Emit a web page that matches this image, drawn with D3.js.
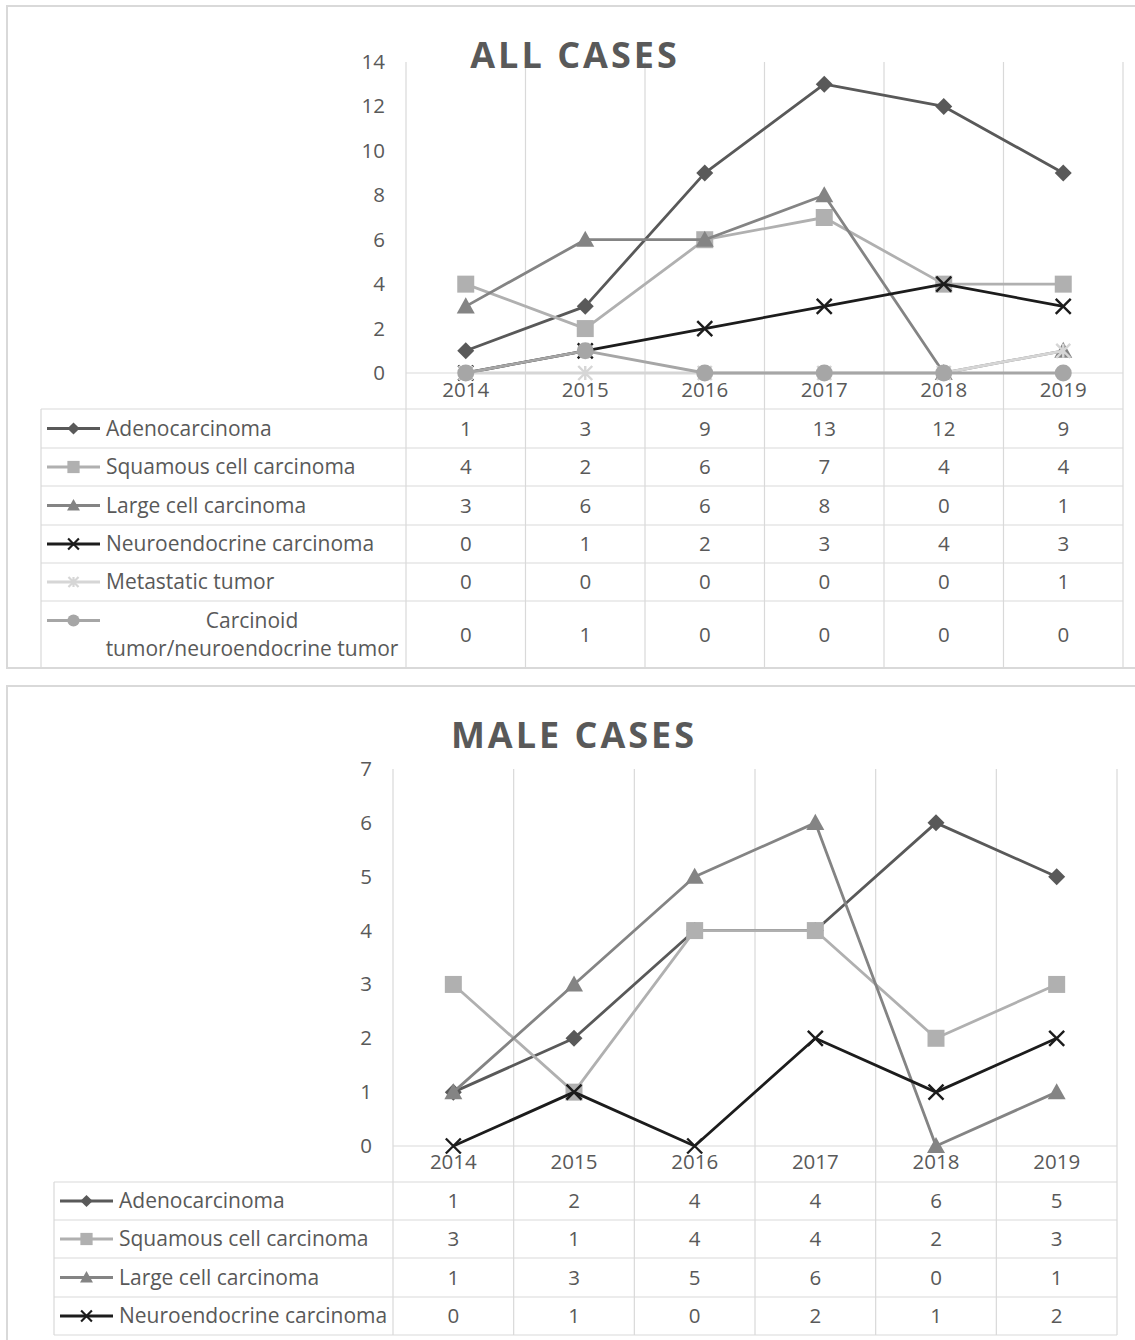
<!DOCTYPE html>
<html><head><meta charset="utf-8">
<script src="https://cdn.jsdelivr.net/npm/d3@7"></script>
<style>
html,body{margin:0;padding:0;background:#fff;}
svg{display:block;font-family:"Open Sans",sans-serif;}
</style></head><body>
<svg id="chart" width="1135" height="1340"></svg>
<script>
// Years shown on the category axis and in the data-table columns
const years = ["2014", "2015", "2016", "2017", "2018", "2019"];

// Histological types (legend / data-table rows)
const seriesNames = [
  "Adenocarcinoma",
  "Squamous cell carcinoma",
  "Large cell carcinoma",
  "Neuroendocrine carcinoma",
  "Metastatic tumor",
  "Carcinoid tumor/neuroendocrine tumor"
];

// All cases, per year
const allAdeno      = [1, 3, 9, 13, 12, 9];
const allSquamous   = [4, 2, 6, 7, 4, 4];
const allLarge      = [3, 6, 6, 8, 0, 1];
const allNeuro      = [0, 1, 2, 3, 4, 3];
const allMetastatic = [0, 0, 0, 0, 0, 1];
const allCarcinoid  = [0, 1, 0, 0, 0, 0];

// Male cases, per year
const maleAdeno    = [1, 2, 4, 4, 6, 5];
const maleSquamous = [3, 1, 4, 4, 2, 3];
const maleLarge    = [1, 3, 5, 6, 0, 1];
const maleNeuro    = [0, 1, 0, 2, 1, 2];

// Value-axis tick labels
const allTicks  = [0, 2, 4, 6, 8, 10, 12, 14];
const maleTicks = [0, 1, 2, 3, 4, 5, 6, 7];

const titles = ["ALL CASES", "MALE CASES"];

// ---- styling ----
const TEXT = "#595959";
const GRID = "#d9d9d9";

const styleOf = {
  "Adenocarcinoma":                       {color: "#595959", marker: "diamond", size: 17},
  "Squamous cell carcinoma":              {color: "#b0b0b0", marker: "square",  size: 17},
  "Large cell carcinoma":                 {color: "#848484", marker: "triangle", size: 18},
  "Neuroendocrine carcinoma":             {color: "#1c1c1c", marker: "cross",   size: 15},
  "Metastatic tumor":                     {color: "#d6d6d6", marker: "star",    size: 14},
  "Carcinoid tumor/neuroendocrine tumor": {color: "#a6a6a6", marker: "circle",  size: 17}
};

// Custom d3 symbol types; "size" is the marker's pixel extent
const markerTypes = {
  diamond:  {draw(c, s) { const r = s / 2; c.moveTo(0, -r); c.lineTo(r, 0); c.lineTo(0, r); c.lineTo(-r, 0); c.closePath(); }},
  square:   {draw(c, s) { const r = s / 2; c.moveTo(-r, -r); c.lineTo(r, -r); c.lineTo(r, r); c.lineTo(-r, r); c.closePath(); }},
  triangle: {draw(c, s) { const r = s / 2; c.moveTo(0, -r); c.lineTo(r, r * 0.78); c.lineTo(-r, r * 0.78); c.closePath(); }},
  circle:   {draw(c, s) { const r = s / 2; c.moveTo(r, 0); c.arc(0, 0, r, 0, 2 * Math.PI); c.closePath(); }},
  cross:    {draw(c, s) { const r = s / 2; c.moveTo(-r, -r); c.lineTo(r, r); c.moveTo(r, -r); c.lineTo(-r, r); }},
  star:     {draw(c, s) { const r = s / 2; c.moveTo(-r, -r); c.lineTo(r, r); c.moveTo(r, -r); c.lineTo(-r, r); c.moveTo(0, -r); c.lineTo(0, r); }}
};
const strokedMarkers = new Set(["cross", "star"]);

function drawMarker(g, name, x, y, scale) {
  const st = styleOf[name];
  const path = d3.symbol().type(markerTypes[st.marker]).size(st.size * scale)();
  const stroked = strokedMarkers.has(st.marker);
  g.append("path")
    .attr("d", path)
    .attr("transform", `translate(${x},${y})`)
    .attr("fill", stroked ? "none" : st.color)
    .attr("stroke", stroked ? st.color : "none")
    .attr("stroke-width", stroked ? 2.4 * Math.max(scale, 0.9) : 0);
}

const svg = d3.select("#chart");

function drawPanel(p) {
  const g = svg.append("g");

  // outer chart frame
  g.append("rect")
    .attr("x", p.frame[0]).attr("y", p.frame[1])
    .attr("width", p.frame[2] - p.frame[0]).attr("height", p.frame[3] - p.frame[1])
    .attr("fill", "#fff").attr("stroke", GRID).attr("stroke-width", 2);

  const x = d3.scaleBand().domain(years).range([p.plotLeft, p.plotRight]).padding(0);
  const y = d3.scaleLinear().domain([0, d3.max(p.ticks)]).range([p.y0, p.yTop]);
  const cx = d => x(d) + x.bandwidth() / 2;

  const tableBottom = p.rows[p.rows.length - 1];

  // vertical gridlines (also the data-table column rules)
  const edges = years.map(d => x(d)).concat([p.plotRight]);
  g.append("g").selectAll("line").data(edges).join("line")
    .attr("x1", d => d).attr("x2", d => d)
    .attr("y1", p.yTop).attr("y2", tableBottom)
    .attr("stroke", GRID).attr("stroke-width", 1.2);

  // baseline at zero
  g.append("line")
    .attr("x1", p.plotLeft).attr("x2", p.plotRight)
    .attr("y1", y(0)).attr("y2", y(0))
    .attr("stroke", GRID).attr("stroke-width", 1.2);

  // data-table row rules
  g.append("g").selectAll("line").data(p.rows).join("line")
    .attr("x1", p.tableLeft).attr("x2", p.plotRight)
    .attr("y1", d => d).attr("y2", d => d)
    .attr("stroke", GRID).attr("stroke-width", 1.2);
  g.append("line")
    .attr("x1", p.tableLeft).attr("x2", p.tableLeft)
    .attr("y1", p.rows[0]).attr("y2", tableBottom)
    .attr("stroke", GRID).attr("stroke-width", 1.2);

  // title
  g.append("text")
    .attr("x", p.titleX).attr("y", p.titleY)
    .attr("text-anchor", "middle")
    .attr("font-size", 36).attr("font-weight", 700)
    .attr("letter-spacing", 3)
    .attr("fill", TEXT)
    .text(p.title);

  // value axis
  const yAxis = g.append("g")
    .attr("transform", `translate(${p.plotLeft},0)`)
    .call(d3.axisLeft(y).tickValues(p.ticks).tickSize(0).tickPadding(21).tickFormat(d3.format("d")));
  yAxis.select(".domain").remove();
  yAxis.selectAll("text").attr("font-size", 20.5).attr("fill", TEXT)
    .attr("font-family", "'Open Sans',sans-serif");

  // category axis
  const xAxis = g.append("g")
    .attr("transform", `translate(0,${p.y0})`)
    .call(d3.axisBottom(x).tickSize(0).tickPadding(p.xPad));
  xAxis.select(".domain").remove();
  xAxis.selectAll("text").attr("font-size", 20.5).attr("fill", TEXT)
    .attr("font-family", "'Open Sans',sans-serif");

  // series lines and markers
  p.series.forEach(s => {
    const st = styleOf[s.name];
    const pts = years.map((yr, i) => [cx(yr), y(s.values[i])]);
    g.append("path")
      .attr("d", d3.line()(pts))
      .attr("fill", "none").attr("stroke", st.color)
      .attr("stroke-width", 2.8).attr("stroke-linejoin", "round").attr("stroke-linecap", "round");
    pts.forEach(pt => drawMarker(g, s.name, pt[0], pt[1], 1));
  });

  // data table: legend keys, labels and values
  p.series.forEach((s, i) => {
    const st = styleOf[s.name];
    const top = p.rows[i], bot = p.rows[i + 1], mid = (top + bot) / 2;
    const keyY = mid - (bot - top > 50 ? 14 : 0);
    g.append("line")
      .attr("x1", p.keyX[0]).attr("x2", p.keyX[1])
      .attr("y1", keyY).attr("y2", keyY)
      .attr("stroke", st.color).attr("stroke-width", 2.8);
    drawMarker(g, s.name, (p.keyX[0] + p.keyX[1]) / 2, keyY, 0.72);

    const label = g.append("text")
      .attr("x", p.textX).attr("y", mid).attr("dy", "0.35em")
      .attr("font-size", 21).attr("fill", TEXT)
      .text(s.name);
    const avail = p.plotLeft - p.textX - 4;
    if (label.node().getComputedTextLength() > avail) {
      // wrap onto two centred lines
      const words = s.name.split(" ");
      const l1 = words[0], l2 = words.slice(1).join(" ");
      const cxl = (p.textX + p.plotLeft - 8) / 2;
      label.text(null).attr("text-anchor", "middle").attr("dy", null);
      label.append("tspan").attr("x", cxl).attr("y", mid - 14).attr("dy", "0.35em").text(l1);
      label.append("tspan").attr("x", cxl).attr("y", mid + 14).attr("dy", "0.35em").text(l2);
    }

    g.append("g").selectAll("text").data(s.values).join("text")
      .attr("x", (d, j) => cx(years[j])).attr("y", mid).attr("dy", "0.35em")
      .attr("text-anchor", "middle").attr("font-size", 20.5).attr("fill", TEXT)
      .text(d => d);
  });
}

drawPanel({
  title: titles[0], titleX: 575, titleY: 68,
  frame: [7, 6, 1150, 668],
  plotLeft: 406, plotRight: 1123, yTop: 62, y0: 373, xPad: 9,
  ticks: allTicks,
  tableLeft: 41, rows: [409, 448, 486, 525, 563, 601, 668],
  keyX: [47, 100], textX: 106,
  series: [
    {name: seriesNames[0], values: allAdeno},
    {name: seriesNames[1], values: allSquamous},
    {name: seriesNames[2], values: allLarge},
    {name: seriesNames[3], values: allNeuro},
    {name: seriesNames[4], values: allMetastatic},
    {name: seriesNames[5], values: allCarcinoid}
  ]
});

drawPanel({
  title: titles[1], titleX: 574, titleY: 748,
  frame: [7, 686, 1150, 1360],
  plotLeft: 393, plotRight: 1117, yTop: 769, y0: 1146, xPad: 8,
  ticks: maleTicks,
  tableLeft: 54, rows: [1182, 1220, 1258, 1297, 1335],
  keyX: [60, 113], textX: 119,
  series: [
    {name: seriesNames[0], values: maleAdeno},
    {name: seriesNames[1], values: maleSquamous},
    {name: seriesNames[2], values: maleLarge},
    {name: seriesNames[3], values: maleNeuro}
  ]
});
</script>
</body></html>
